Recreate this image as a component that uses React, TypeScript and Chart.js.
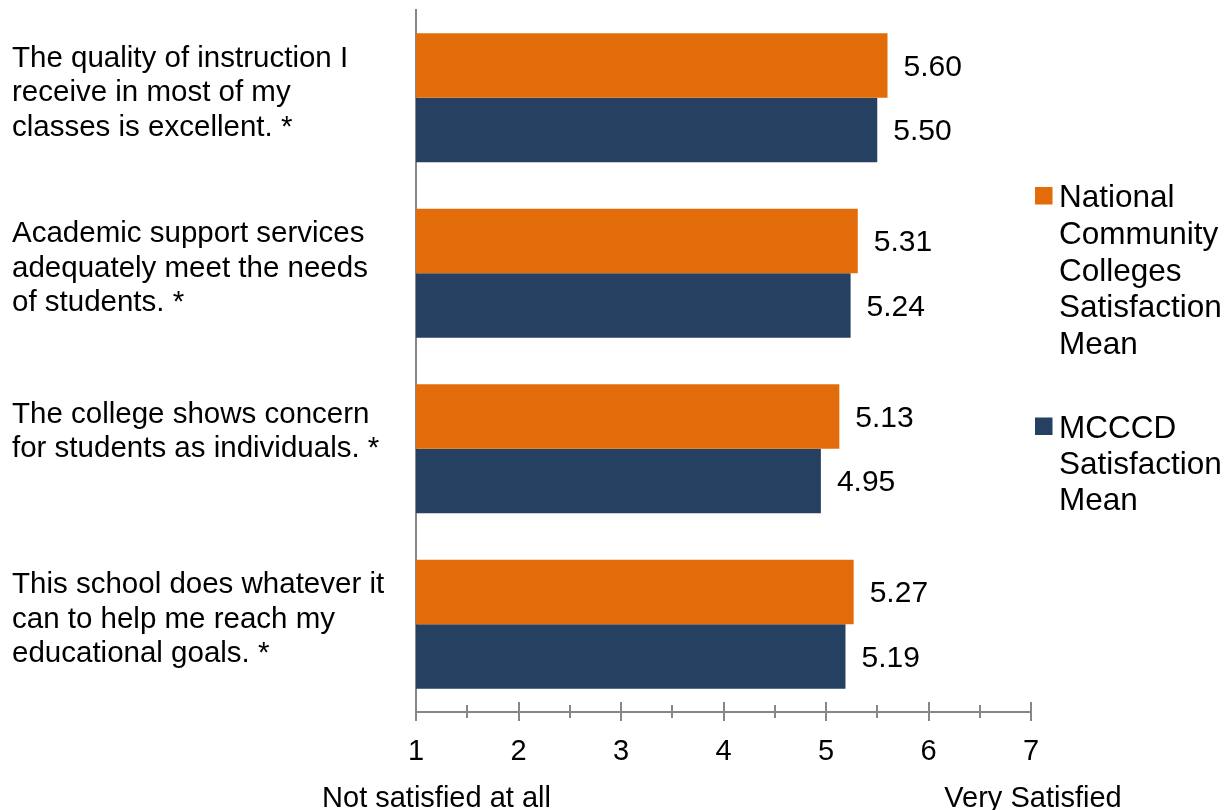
import React, { useEffect, useRef } from "react";
import { Chart, registerables } from "chart.js";

Chart.register(...registerables);

const categories: string[][] = [
  ["The quality of instruction I", "receive in most of my", "classes is excellent. *"],
  ["Academic support services", "adequately meet the needs", "of students. *"],
  ["The college shows concern", "for students as individuals. *"],
  ["This school does whatever it", "can to help me reach my", "educational goals. *"],
];
const nationalMeans = [5.6, 5.31, 5.13, 5.27];
const mcccdMeans = [5.5, 5.24, 4.95, 5.19];
const seriesNames: string[][] = [
  ["National", "Community", "Colleges", "Satisfaction", "Mean"],
  ["MCCCD", "Satisfaction", "Mean"],
];
const seriesColors = ["#E36C0A", "#254061"];
const axisMin = 1;
const axisMax = 7;
const axisEndLabels = ["Not satisfied at all", "Very Satisfied"];

const FONT = '"Liberation Sans", Arial, sans-serif';
const AXIS_COLOR = "#878787";

const customPlugin = {
  id: "custom",
  afterDatasetsDraw(chart: any) {
    const ctx = chart.ctx;
    ctx.save();
    ctx.font = `30px ${FONT}`;
    ctx.fillStyle = "#000";
    ctx.textAlign = "left";
    ctx.textBaseline = "middle";
    chart.data.datasets.forEach((ds: any, di: number) => {
      const meta = chart.getDatasetMeta(di);
      meta.data.forEach((el: any, i: number) => {
        ctx.fillText(Number(ds.data[i]).toFixed(2), el.x + 16, el.y + 2);
      });
    });
    ctx.restore();
  },
  afterDraw(chart: any) {
    const ctx = chart.ctx;
    const xs = chart.scales.x;
    const ys = chart.scales.y;
    const axisY = chart.chartArea.bottom;
    ctx.save();
    // tick marks
    ctx.strokeStyle = AXIS_COLOR;
    ctx.lineWidth = 2;
    for (let v = axisMin; v <= axisMax + 1e-9; v += 0.5) {
      const x = Math.round(xs.getPixelForValue(v));
      const major = Math.abs(v - Math.round(v)) < 1e-9;
      ctx.beginPath();
      ctx.moveTo(x, axisY - (major ? 10 : 7));
      ctx.lineTo(x, axisY + (major ? 9 : 6));
      ctx.stroke();
    }
    // axis end labels
    ctx.fillStyle = "#000";
    ctx.font = `29px ${FONT}`;
    ctx.textAlign = "center";
    ctx.textBaseline = "alphabetic";
    ctx.fillText(axisEndLabels[0], xs.getPixelForValue(axisMin + 0.2), 807);
    ctx.fillText(axisEndLabels[1], xs.getPixelForValue(axisMax) + 2, 807);
    // category labels
    ctx.font = `29.5px ${FONT}`;
    ctx.textAlign = "left";
    categories.forEach((lines, i) => {
      const cy = ys.getPixelForValue(i);
      const first = cy + (lines.length >= 3 ? -31 : -26);
      lines.forEach((line, li) => {
        ctx.fillText(line, 12, first + li * 34.5);
      });
    });
    // legend
    ctx.font = `31.5px ${FONT}`;
    const legendBaselines = [207, 437.5];
    const legendSpacing = [36.75, 36.2];
    seriesNames.forEach((lines, si) => {
      ctx.fillStyle = seriesColors[si];
      ctx.fillRect(1035, legendBaselines[si] - 20, 17.5, 17.5);
      ctx.fillStyle = "#000";
      lines.forEach((line, li) => {
        ctx.fillText(line, 1059, legendBaselines[si] + li * legendSpacing[si]);
      });
    });
    ctx.restore();
  },
};

export default function App() {
  const canvasRef = useRef<HTMLCanvasElement | null>(null);

  useEffect(() => {
    document.body.style.margin = "0";
    document.body.style.overflow = "hidden";
    const canvas = canvasRef.current;
    if (!canvas) return;
    const chart = new Chart(canvas, {
      type: "bar",
      data: {
        labels: categories.map((c) => c.join(" ")),
        datasets: [
          {
            label: seriesNames[0].join(" "),
            data: nationalMeans,
            backgroundColor: seriesColors[0],
            categoryPercentage: 0.735,
            barPercentage: 1,
          },
          {
            label: seriesNames[1].join(" "),
            data: mcccdMeans,
            backgroundColor: seriesColors[1],
            categoryPercentage: 0.735,
            barPercentage: 1,
          },
        ],
      },
      options: {
        indexAxis: "y",
        animation: false,
        responsive: true,
        maintainAspectRatio: false,
        layout: { padding: { left: 416, right: 195, top: 10, bottom: 0 } },
        plugins: {
          legend: { display: false },
          tooltip: { enabled: false },
          title: { display: false },
        },
        scales: {
          x: {
            type: "linear",
            min: axisMin,
            max: axisMax,
            grid: { display: false, drawTicks: false },
            border: { display: true, color: AXIS_COLOR, width: 2 },
            ticks: {
              stepSize: 1,
              padding: 23,
              color: "#000",
              font: { family: FONT, size: 29 },
            },
            afterFit: (scale: any) => {
              scale.height = 98;
            },
          },
          y: {
            type: "category",
            grid: { display: false, drawTicks: false },
            border: { display: true, color: AXIS_COLOR, width: 2 },
            ticks: { display: false },
            afterFit: (scale: any) => {
              scale.width = 0;
            },
          },
        },
      },
      plugins: [customPlugin],
    } as any);
    return () => chart.destroy();
  }, []);

  return (
    <div style={{ width: 1226, height: 810, position: "relative" }}>
      <canvas ref={canvasRef} />
    </div>
  );
}
